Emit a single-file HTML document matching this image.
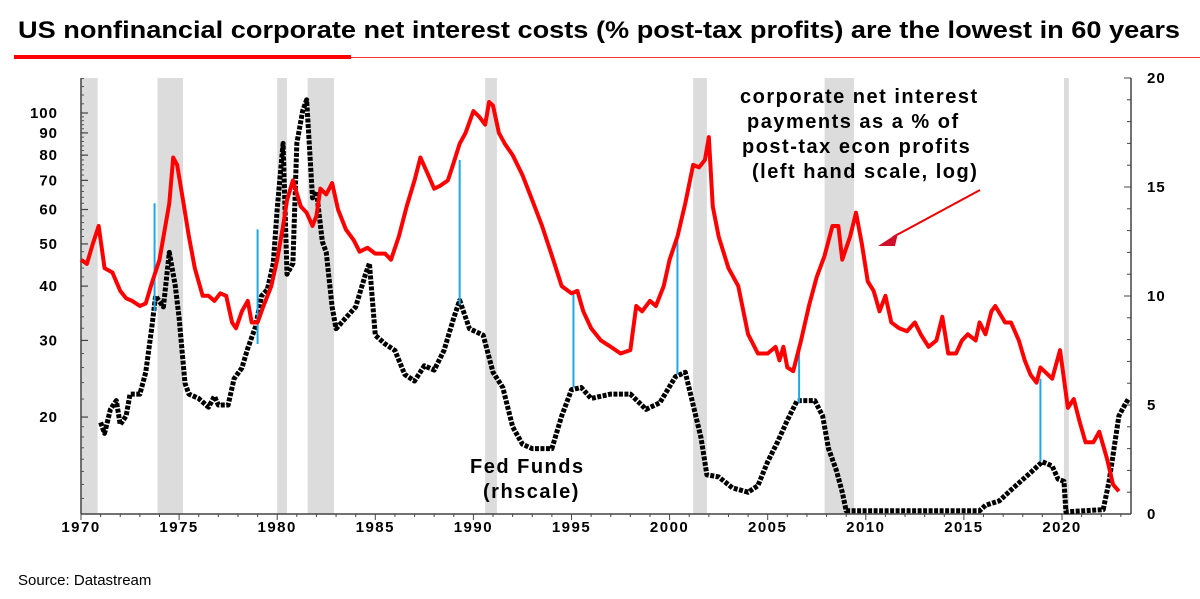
<!DOCTYPE html>
<html><head><meta charset="utf-8"><style>
body{margin:0;background:#fff;width:1200px;height:594px;overflow:hidden;font-family:"Liberation Sans",sans-serif}
</style></head><body>
<svg width="1200" height="594" viewBox="0 0 1200 594" xmlns="http://www.w3.org/2000/svg">
<text x="18" y="38" font-size="24" font-weight="bold" fill="#000" textLength="1162" lengthAdjust="spacingAndGlyphs">US nonfinancial corporate net interest costs (% post-tax profits) are the lowest in 60 years</text>
<rect x="14" y="55" width="337" height="4" fill="#f00"/>
<rect x="351" y="57" width="849" height="1" fill="#f33"/>
<g id="rec"></g><g id="axes"></g><g id="series"></g>
<text font-family="Liberation Sans" font-weight="bold" font-size="20" fill="#000" letter-spacing="1.5">
<tspan x="740" y="103">corporate net interest</tspan>
<tspan x="747" y="128">payments as a % of</tspan>
<tspan x="742" y="153">post-tax econ profits</tspan>
<tspan x="752" y="178">(left hand scale, log)</tspan></text>
<line x1="980" y1="190" x2="893" y2="237" stroke="#e00" stroke-width="2"/>
<polygon points="878,246 898,233 895,246" fill="#d0102a"/>
<text font-weight="bold" font-size="20" fill="#000" letter-spacing="1.5"><tspan x="470" y="473">Fed Funds</tspan><tspan x="483" y="498">(rhscale)</tspan></text>
<text x="18" y="585" font-size="15" fill="#000">Source: Datastream</text>
</svg>
<script>
const recessions=[[1970.0,1970.85],[1973.9,1975.2],[1980.0,1980.5],[1981.55,1982.9],[1990.6,1991.2],[2001.2,2001.9],[2007.9,2009.4],[2020.1,2020.35]];
const redYears=[1970.0,1970.3,1970.6,1970.9,1971.2,1971.6,1972.0,1972.3,1972.6,1973.0,1973.3,1973.6,1974.0,1974.3,1974.5,1974.7,1974.9,1975.2,1975.5,1975.8,1976.2,1976.5,1976.8,1977.1,1977.4,1977.7,1977.9,1978.2,1978.5,1978.7,1979.0,1979.3,1979.7,1980.0,1980.3,1980.5,1980.8,1981.2,1981.5,1981.8,1982.0,1982.2,1982.5,1982.8,1983.1,1983.5,1983.9,1984.2,1984.6,1985.0,1985.5,1985.8,1986.2,1986.6,1987.0,1987.3,1987.7,1988.0,1988.3,1988.7,1989.0,1989.3,1989.6,1990.0,1990.3,1990.6,1990.8,1991.0,1991.3,1991.6,1992.0,1992.5,1993.0,1993.5,1994.0,1994.5,1995.0,1995.3,1995.6,1996.0,1996.5,1997.0,1997.5,1998.0,1998.3,1998.6,1999.0,1999.3,1999.7,2000.0,2000.4,2000.8,2001.2,2001.5,2001.8,2002.0,2002.2,2002.5,2003.0,2003.5,2004.0,2004.5,2005.0,2005.4,2005.6,2005.8,2006.0,2006.3,2006.7,2007.1,2007.5,2007.9,2008.3,2008.6,2008.8,2009.2,2009.5,2009.8,2010.1,2010.4,2010.7,2011.0,2011.3,2011.7,2012.1,2012.5,2012.8,2013.2,2013.6,2013.9,2014.2,2014.6,2014.9,2015.2,2015.6,2015.8,2016.1,2016.4,2016.6,2017.1,2017.4,2017.8,2018.1,2018.4,2018.7,2018.9,2019.1,2019.5,2019.9,2020.3,2020.6,2020.9,2021.2,2021.6,2021.9,2022.3,2022.6,2022.9,2023.2];
const redValues=[46,45,50,55,44,43,39,37.5,37,36,36.5,40.5,46,55,62,79,76,63,52,44,38,38,37,38.5,38,33,32,35,37,33,33,36,40,46,55,63,70,61,59,55,58,67,65,69,60,54,51,48,49,47.5,47.5,46,52,61,70,79,72,67,68,70,77,85,90,101,98,94,106,104,90,85,80,72,63,55,47,40,38.5,39,35,32,30,29,28,28.5,36,35,37,36,40,46,52,62,76,75,78,88,61,52,44,40,31,28,28,29,27,29,26,25.5,30,36,42,47,55,55,46,52,59,50,41,39,35,38,33,32,31.5,33,31,29,30,34,28,28,30,31,30,33,31,35,36,33,33,30,27,25,24,26,25.5,24.5,28.5,21,22,19.5,17.5,17.5,18.5,16,14,13.5];
const ffYears=[1971.0,1971.2,1971.5,1971.8,1972.0,1972.3,1972.5,1973.0,1973.3,1973.6,1973.8,1974.2,1974.5,1974.8,1975.0,1975.3,1975.5,1976.0,1976.5,1976.8,1977.0,1977.5,1977.8,1978.2,1978.5,1978.9,1979.2,1979.5,1979.8,1980.0,1980.3,1980.5,1980.8,1981.0,1981.3,1981.5,1981.8,1982.0,1982.3,1982.5,1982.8,1983.0,1983.5,1984.0,1984.5,1984.7,1985.0,1985.5,1986.0,1986.5,1987.0,1987.5,1988.0,1988.5,1989.0,1989.3,1989.8,1990.5,1991.0,1991.5,1992.0,1992.5,1993.0,1994.0,1994.5,1995.0,1995.5,1996.0,1997.0,1998.0,1998.8,1999.5,2000.3,2000.8,2001.2,2001.6,2001.9,2002.5,2003.2,2004.0,2004.5,2005.0,2005.5,2006.0,2006.5,2007.4,2007.8,2008.1,2008.5,2008.8,2009.0,2015.8,2016.1,2016.8,2017.4,2017.9,2018.4,2019.0,2019.5,2019.8,2020.1,2020.2,2022.1,2022.4,2022.7,2022.9,2023.2,2023.4];
const ffValues=[4.2,3.7,4.8,5.2,4.1,4.5,5.5,5.5,6.5,8.5,10.0,9.5,12.0,10.5,9.0,6.0,5.5,5.3,4.9,5.4,5.0,5.0,6.2,6.7,7.6,8.6,10.0,10.3,11.5,14.0,17.0,11.0,11.5,17.0,18.5,19.0,14.5,14.8,12.5,12.0,9.5,8.5,9.0,9.5,11.0,11.5,8.2,7.8,7.5,6.4,6.1,6.8,6.6,7.5,9.0,9.8,8.5,8.2,6.5,5.8,4.0,3.2,3.0,3.0,4.5,5.7,5.8,5.3,5.5,5.5,4.8,5.1,6.3,6.5,5.0,3.5,1.8,1.7,1.2,1.0,1.3,2.4,3.3,4.3,5.2,5.2,4.5,3.0,2.0,1.0,0.15,0.15,0.4,0.6,1.1,1.5,1.9,2.4,2.2,1.6,1.5,0.1,0.2,1.5,3.3,4.5,5.0,5.3];
const markerYears=[1973.75,1979.0,1989.3,1995.1,2000.4,2006.6,2018.9];
const markerTopLeft=[62,54,78,39,52,29,24.5];
const markerBottomRight=[9.3,7.8,9.6,5.8,6.4,5.1,2.4];
const leftTicks=[20,30,40,50,60,70,80,90,100];
const rightTicks=[0,5,10,15,20];
const xTicks=[1970,1975,1980,1985,1990,1995,2000,2005,2010,2015,2020];

const NS="http://www.w3.org/2000/svg";
const X0=81,Y0=514,Ytop=78,AXR=1131;
const x=y=>X0+(y-1970)*19.62;
const yL=v=>113-Math.log10(v/100)*435;
const yR=v=>Y0-v*(Y0-Ytop)/20;
function mk(t,a,p){const e=document.createElementNS(NS,t);for(const k in a)e.setAttribute(k,a[k]);p.appendChild(e);return e;}
const rec=document.getElementById('rec'),ax=document.getElementById('axes'),se=document.getElementById('series');
recessions.forEach(r=>{const e=mk('rect',{x:x(r[0]),y:Ytop,width:x(r[1])-x(r[0]),height:Y0-Ytop,fill:'#dcdcdc'},rec);

});
let e=mk('line',{x1:X0,y1:Ytop,x2:X0,y2:Y0,stroke:'#444','stroke-width':1.5},ax);

e=mk('line',{x1:AXR,y1:Ytop,x2:AXR,y2:Y0,stroke:'#444','stroke-width':1.5},ax);

e=mk('line',{x1:X0,y1:Y0,x2:AXR,y2:Y0,stroke:'#444','stroke-width':1.5},ax);

for(let v=13;v<=120;v+=(v<20?1:v<100?2:5)){mk('line',{x1:X0,y1:yL(v),x2:X0+3,y2:yL(v),stroke:'#555'},ax);}
leftTicks.forEach(v=>{mk('line',{x1:X0,y1:yL(v),x2:X0+7,y2:yL(v),stroke:'#444','stroke-width':1.2},ax);
const t=mk('text',{x:58,y:yL(v)+5,'text-anchor':'end','font-size':15,'font-weight':'bold','letter-spacing':1},ax);t.textContent=v;
});
for(let v=0;v<=20;v++){mk('line',{x1:AXR-(v%5?4:7),y1:yR(v),x2:AXR,y2:yR(v),stroke:'#444'},ax);}
rightTicks.forEach(v=>{const t=mk('text',{x:1147,y:yR(v)+5,'font-size':15,'font-weight':'bold','letter-spacing':1},ax);t.textContent=v;
});
for(let yy=1970;yy<=2023;yy++){mk('line',{x1:x(yy),y1:Y0,x2:x(yy),y2:Y0+(yy%5?3:6),stroke:'#444'},ax);}
xTicks.forEach(v=>{const t=mk('text',{x:x(v),y:532,'text-anchor':'middle','font-size':15,'font-weight':'bold','letter-spacing':1.5},ax);t.textContent=v;
});
e=mk('polyline',{points:ffYears.map((yy,i)=>x(yy)+','+yR(ffValues[i])).join(' '),fill:'none',stroke:'#000','stroke-width':5,'stroke-dasharray':'4 1.5','stroke-linejoin':'round'},se);

markerYears.forEach((yy,i)=>{const m=mk('line',{x1:x(yy),y1:yL(markerTopLeft[i]),x2:x(yy),y2:yR(markerBottomRight[i]),stroke:'#1fa8e8','stroke-width':2},se);
});
e=mk('polyline',{points:redYears.map((yy,i)=>x(yy)+','+yL(redValues[i])).join(' '),fill:'none',stroke:'#f00','stroke-width':4,'stroke-linejoin':'round'},se);

</script>
</body></html>
